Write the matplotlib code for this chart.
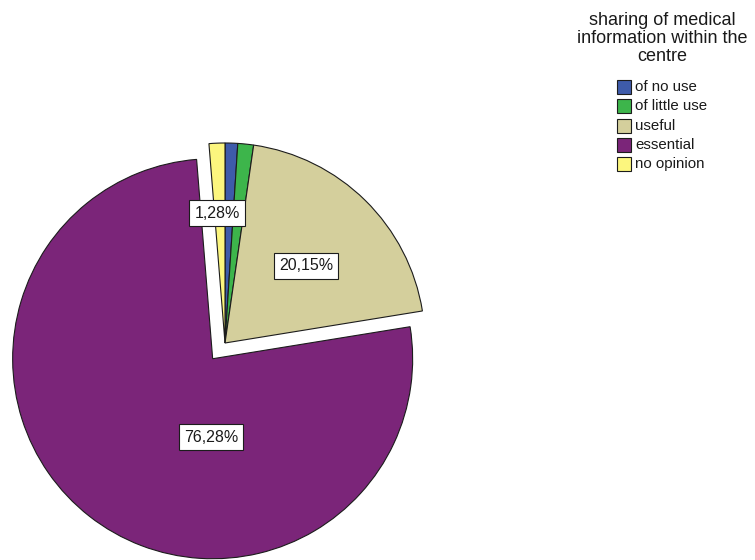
import matplotlib
matplotlib.use("Agg")
import matplotlib.pyplot as plt
from matplotlib.patches import Rectangle

plt.rcParams['font.family'] = ['Liberation Sans', 'DejaVu Sans']

# Responses to "sharing of medical information within the centre" (%)
categories = ["of no use", "of little use", "useful", "essential", "no opinion"]
percentages = [1.02, 1.27, 20.15, 76.28, 1.28]
colors = ["#3E5BAA", "#3DB54B", "#D4CF9C", "#7B2579", "#FCF67E"]
explode = [0, 0, 0, 0.1, 0]

# Slices that carry a percentage label, and where the label sits (data units)
labelled = {"essential": (-0.07, -0.47), "useful": (0.405, 0.385), "no opinion": (-0.04, 0.65)}

W, H = 755, 560
fig = plt.figure(figsize=(W / 100, H / 100), dpi=100)
ax = fig.add_axes([0, 0, 1, 1])

cx, cy, rpx = 225, 343, 200  # pie centre and radius in pixels
ax.pie(percentages, colors=colors, explode=explode, startangle=90, counterclock=False,
       radius=1.0, wedgeprops=dict(edgecolor="#1c1c1c", linewidth=0.8))
ax.set_xlim(-cx / rpx, (W - cx) / rpx)
ax.set_ylim(-(H - cy) / rpx, cy / rpx)
ax.set_aspect('auto')
ax.axis('off')

for cat, val in zip(categories, percentages):
    if cat in labelled:
        x, y = labelled[cat]
        ax.text(x, y, f"{val:.2f}".replace('.', ',') + "%", ha='center', va='center',
                fontsize=11.5, color='#1a1a1a',
                bbox=dict(boxstyle='square,pad=0.32', facecolor='white',
                          edgecolor='#1c1c1c', linewidth=0.8))

# Legend
fig.text(662 / W, 1 - 12 / H, "sharing of medical\ninformation within the\ncentre",
         ha='center', va='top', fontsize=13, linespacing=1.08, color='#1a1a1a')
row0, step, box = 87, 19.3, 14
for i, (cat, col) in enumerate(zip(categories, colors)):
    yc = row0 + i * step
    fig.add_artist(Rectangle((617 / W, 1 - (yc + box / 2) / H), box / W, box / H,
                             transform=fig.transFigure, facecolor=col,
                             edgecolor='#1c1c1c', linewidth=0.8))
    fig.text(635 / W, 1 - yc / H, cat, ha='left', va='center', fontsize=10.8,
             color='#1a1a1a')

fig.savefig("out.png", dpi=100, facecolor='white')
